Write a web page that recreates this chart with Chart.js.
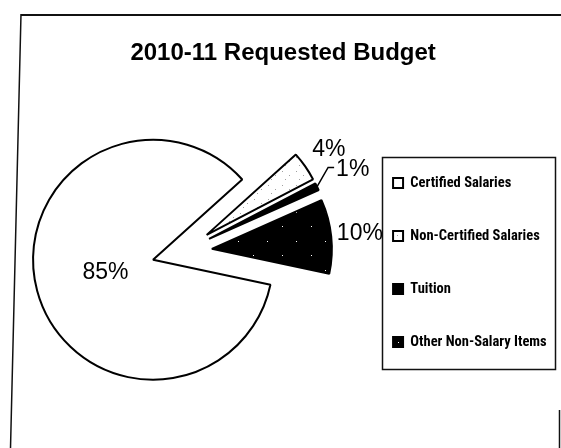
<!DOCTYPE html>
<html>
<head>
<meta charset="utf-8">
<title>2010-11 Requested Budget</title>
<script src="https://cdn.jsdelivr.net/npm/chart.js@4.4.1/dist/chart.umd.min.js"></script>
<style>
  html, body { margin: 0; background: #fff; }
  #wrap { position: relative; width: 561px; height: 448px; }
</style>
</head>
<body>
<div id="wrap"><canvas id="budget" width="561" height="448"></canvas></div>
<script>
/* ── Data ───────────────────────────────────────────── */
const categories = ['Certified Salaries', 'Non-Certified Salaries', 'Tuition', 'Other Non-Salary Items'];
const shares = [85, 4, 1, 10];            // percent of the requested budget
const chartTitle = '2010-11 Requested Budget';

/* ── Fills ──────────────────────────────────────────── */
// sparse speckled tiles, like the old print shading
function speckle(size, bg, dot, pts) {
  const c = document.createElement('canvas');
  c.width = c.height = size;
  const g = c.getContext('2d');
  g.fillStyle = bg; g.fillRect(0, 0, size, size);
  g.fillStyle = dot;
  pts.forEach(([x, y]) => g.fillRect(x, y, 1, 1));
  return g.createPattern(c, 'repeat');
}
const fills = [
  '#ffffff',
  speckle(14, '#ffffff', '#a0a0a0', [[2, 3], [9, 7], [5, 11]]),
  '#000000',
  speckle(29, '#000000', '#ffffff', [[6, 9], [21, 23]])
];

const SANS = "'Liberation Sans', Arial, sans-serif";
const NARROW = "'Roboto Condensed', 'Liberation Sans Narrow', sans-serif";
const EXPLODE = 30;   // px each slice is pulled out from the centre

/* ── Outer frame ────────────────────────────────────── */
const frame = {
  id: 'frame',
  beforeDraw(chart) {
    const { ctx, width, height } = chart;
    ctx.save();
    ctx.fillStyle = '#fff';
    ctx.fillRect(0, 0, width, height);
    ctx.strokeStyle = '#111';
    ctx.lineWidth = 2;
    ctx.beginPath();
    ctx.moveTo(21, 15); ctx.lineTo(width, 15);
    ctx.stroke();
    ctx.lineWidth = 1.5;
    ctx.beginPath();
    ctx.moveTo(21, 14); ctx.lineTo(10.5, height);
    ctx.moveTo(559.5, 410); ctx.lineTo(559.5, height);
    ctx.stroke();
    ctx.restore();
  }
};

/* ── Exploded slices ────────────────────────────────── */
const explode = {
  id: 'explode',
  afterDatasetUpdate(chart, args) {
    args.meta.data.forEach(arc => {
      const mid = (arc.startAngle + arc.endAngle) / 2;
      arc.x += Math.cos(mid) * EXPLODE;
      arc.y += Math.sin(mid) * EXPLODE;
    });
  }
};

/* ── Percent labels ─────────────────────────────────── */
const sliceLabels = {
  id: 'sliceLabels',
  afterDatasetsDraw(chart) {
    const { ctx } = chart;
    const meta = chart.getDatasetMeta(0);
    ctx.save();
    ctx.font = '23px ' + SANS;
    ctx.fillStyle = '#000';
    ctx.strokeStyle = '#000';
    ctx.textAlign = 'center';
    ctx.textBaseline = 'middle';
    meta.data.forEach((arc, i) => {
      const v = shares[i];
      const { x, y, startAngle, endAngle, outerRadius } =
        arc.getProps(['x', 'y', 'startAngle', 'endAngle', 'outerRadius'], true);
      const mid = (startAngle + endAngle) / 2;
      const reach = v >= 50 ? 0.41 : (v < 2 ? 1.33 : 1.24);
      const lx = x + Math.cos(mid) * outerRadius * reach;
      const ly = y + Math.sin(mid) * outerRadius * reach;
      const txt = v + '%';
      ctx.fillText(txt, lx, ly);
      if (v < 2) {
        // leader line from the slice tip to the label
        const w = ctx.measureText(txt).width;
        ctx.lineWidth = 1.5;
        ctx.beginPath();
        ctx.moveTo(x + Math.cos(mid) * outerRadius, y + Math.sin(mid) * outerRadius);
        ctx.lineTo(lx - w / 2 - 8, ly - 2);
        ctx.lineTo(lx - w / 2 - 2, ly - 2);
        ctx.stroke();
      }
    });
    ctx.restore();
  }
};

/* ── Box round the legend ───────────────────────────── */
const legendFrame = {
  id: 'legendFrame',
  afterDraw(chart) {
    const boxes = chart.legend && chart.legend.legendHitBoxes;
    if (!boxes || !boxes.length) return;
    const left = Math.min(...boxes.map(b => b.left)) - 11;
    const right = Math.max(...boxes.map(b => b.left + b.width)) + 8;
    const top = boxes[0].top - 19;
    const last = boxes[boxes.length - 1];
    const bottom = last.top + last.height + 19;
    const { ctx } = chart;
    ctx.save();
    ctx.strokeStyle = '#111';
    ctx.lineWidth = 1.5;
    ctx.strokeRect(Math.round(left) + 0.5, Math.round(top) + 0.5, Math.round(right - left), Math.round(bottom - top));
    ctx.restore();
  }
};

/* ── Chart ──────────────────────────────────────────── */
new Chart(document.getElementById('budget'), {
  type: 'pie',
  data: {
    labels: categories,
    datasets: [{
      data: shares,
      backgroundColor: fills,
      borderColor: '#000',
      borderWidth: 2
    }]
  },
  options: {
    responsive: false,
    animation: false,
    radius: 120,
    rotation: 102,
    layout: { padding: { left: 9.5, right: 4.3, top: 0, bottom: 11.8 } },
    plugins: {
      title: {
        display: true,
        text: chartTitle,
        color: '#000',
        font: { family: SANS, size: 24, weight: 'bold' },
        padding: { top: 39, bottom: 0 }
      },
      legend: {
        position: 'right',
        fullSize: false,
        // empty title only pads the item column down a little
        title: { display: true, text: '', padding: 4.5, font: { size: 10 } },
        labels: {
          color: '#000',
          font: { family: NARROW, size: 14.5, weight: 'bold' },
          boxWidth: 10,
          boxHeight: 10,
          padding: 38.5
        }
      },
      tooltip: { enabled: false }
    }
  },
  plugins: [frame, explode, sliceLabels, legendFrame]
});
</script>
</body>
</html>
